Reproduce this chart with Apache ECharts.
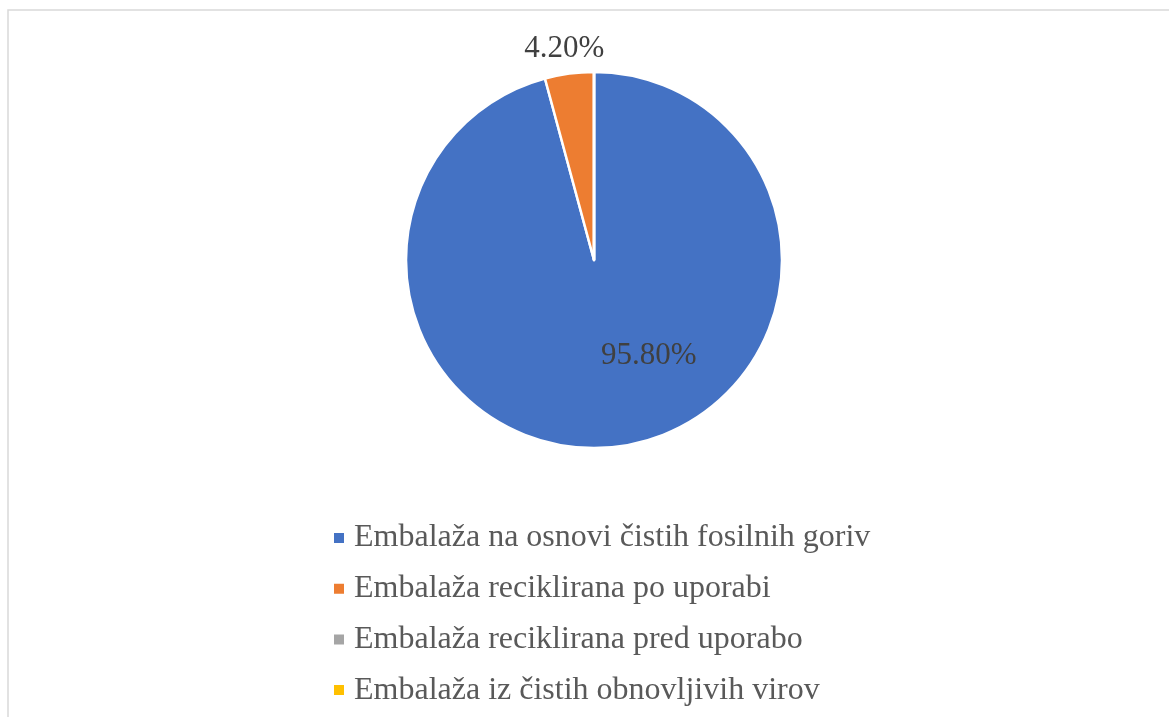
<!DOCTYPE html>
<html>
<head>
<meta charset="utf-8">
<script src="https://cdn.jsdelivr.net/npm/echarts@6/dist/echarts.min.js"></script>
<style>
html,body{margin:0;padding:0;background:#fff;}
#chart{width:1169px;height:717px;}
</style>
</head>
<body>
<div id="chart"></div>
<script>
var categories = [
  'Embalaža na osnovi čistih fosilnih goriv',
  'Embalaža reciklirana po uporabi',
  'Embalaža reciklirana pred uporabo',
  'Embalaža iz čistih obnovljivih virov'
];
var shares = [95.8, 4.2, 0, 0];
var colors = ['#4472C4', '#ED7D31', '#A5A5A5', '#FFC000'];
var labelShift = [[42, 0], [-17, -115], [0, 0], [0, 0]];

var chart = echarts.init(document.getElementById('chart'));
chart.setOption({
  animation: false,
  color: colors,
  graphic: [{
    type: 'rect',
    shape: { x: 8, y: 10, width: 1300, height: 900 },
    style: { fill: 'none', stroke: '#d9d9d9', lineWidth: 1.5 },
    silent: true,
    z: -1
  }],
  legend: {
    orient: 'vertical',
    left: 332,
    top: 522,
    padding: 0,
    itemWidth: 12,
    itemHeight: 12,
    itemGap: 18.7,
    icon: 'rect',
    data: categories,
    textStyle: {
      fontFamily: 'Liberation Serif',
      fontSize: 32,
      lineHeight: 32,
      color: '#595959',
      padding: [0, 0, 0, 4]
    }
  },
  series: [{
    type: 'pie',
    center: [594, 260],
    radius: [0, 188],
    startAngle: 90,
    clockwise: true,
    avoidLabelOverlap: false,
    itemStyle: { borderColor: '#ffffff', borderWidth: 2.5 },
    label: {
      show: true,
      position: 'inside',
      fontFamily: 'Liberation Serif',
      fontSize: 31,
      color: '#404040',
      formatter: function (p) {
        return p.value > 0 ? p.value.toFixed(2) + '%' : '';
      }
    },
    labelLine: { show: false },
    labelLayout: function (p) {
      var s = labelShift[p.dataIndex];
      return { dx: s[0], dy: s[1] };
    },
    data: categories.map(function (c, i) {
      return { name: c, value: shares[i] };
    })
  }]
});
</script>
</body>
</html>
